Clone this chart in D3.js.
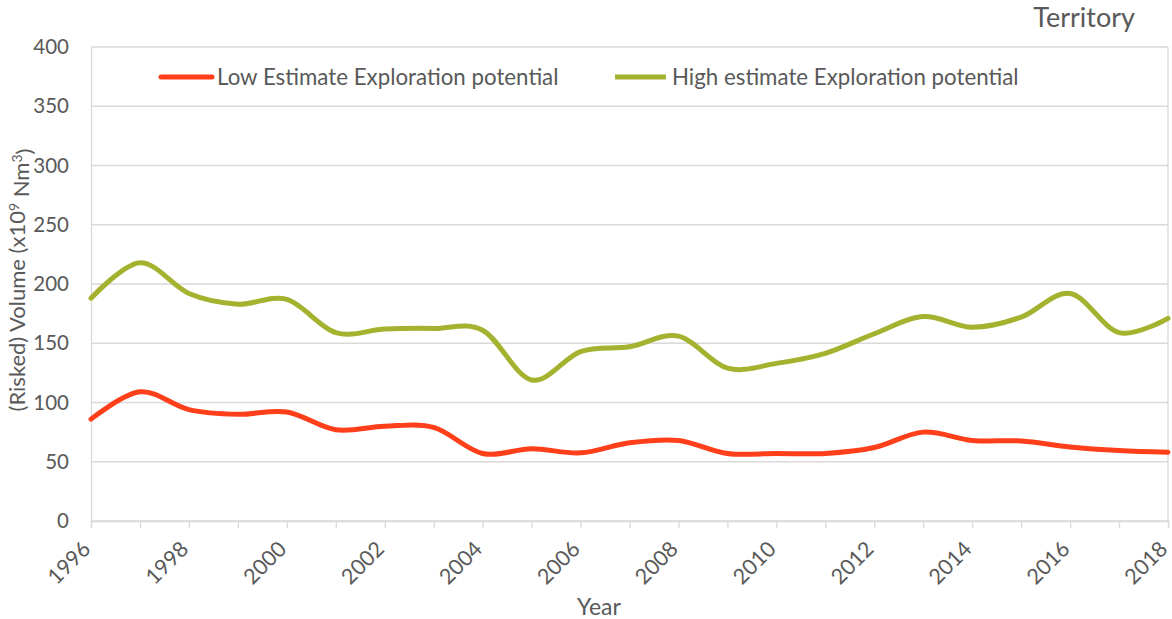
<!DOCTYPE html>
<html>
<head>
<meta charset="utf-8">
<script src="https://cdn.jsdelivr.net/npm/d3@7"></script>
<style>
  html, body { margin: 0; padding: 0; background: #fff; }
  svg { display: block; font-family: Lato, "Open Sans", sans-serif; }
</style>
</head>
<body>
<svg id="chart" width="1172" height="619"></svg>
<script>
// Years on the x axis
const years = [1996, 1997, 1998, 1999, 2000, 2001, 2002, 2003, 2004, 2005, 2006, 2007,
               2008, 2009, 2010, 2011, 2012, 2013, 2014, 2015, 2016, 2017, 2018];

// Risked volume, low estimate (x10^9 Nm3)
const lowEstimate = [86, 109, 94, 90, 92, 77, 80, 79, 57, 61, 57.5, 66,
                     68, 57, 57, 57, 62, 75, 68, 67.5, 62.5, 59.5, 58];

// Risked volume, high estimate (x10^9 Nm3)
const highEstimate = [188, 218, 192, 183, 187, 159, 162, 162.5, 161, 119, 143, 147,
                      156, 129, 133, 141.5, 158, 172.5, 163.5, 172, 192, 159, 171];

const yTicks = [0, 50, 100, 150, 200, 250, 300, 350, 400];
const xLabelYears = [1996, 1998, 2000, 2002, 2004, 2006, 2008, 2010, 2012, 2014, 2016, 2018];

const seriesNames = ["Low Estimate Exploration potential", "High estimate Exploration potential"];
const seriesColors = ["#FF3F1A", "#A5B22F"];

const margin = { left: 91, right: 4, top: 47, bottom: 98 };
const W = 1172, H = 619;
const svg = d3.select("#chart");

const x = d3.scaleLinear().domain([1996, 2018]).range([margin.left, W - margin.right]);
const y = d3.scaleLinear().domain([0, 400]).range([H - margin.bottom, margin.top]);

const textColor = "#595959";
const gridColor = "#D9D9D9";

// Horizontal gridlines
svg.append("g")
  .selectAll("line")
  .data(yTicks)
  .join("line")
  .attr("x1", x(1996)).attr("x2", x(2018))
  .attr("y1", d => y(d)).attr("y2", d => y(d))
  .attr("stroke", gridColor).attr("stroke-width", 1.3);

// Plot-area frame on the right side
svg.append("line")
  .attr("x1", x(2018)).attr("x2", x(2018))
  .attr("y1", y(400)).attr("y2", y(0))
  .attr("stroke", gridColor).attr("stroke-width", 1.3);

// Y axis
const yAxis = svg.append("g")
  .attr("transform", `translate(${x(1996)},0)`)
  .call(d3.axisLeft(y).tickValues(yTicks).tickSize(0).tickPadding(22));
yAxis.select(".domain").attr("stroke", gridColor).attr("stroke-width", 1.3);
yAxis.selectAll("text")
  .attr("fill", textColor)
  .style("font-size", "20.5px")
  .style("font-family", "Lato, 'Open Sans', sans-serif");

// X axis: a tick every year, labels every two years
const xAxis = svg.append("g")
  .attr("transform", `translate(0,${y(0)})`)
  .call(d3.axisBottom(x).tickValues(years).tickSize(7)
    .tickFormat(d => xLabelYears.includes(d) ? String(d) : ""));
xAxis.select(".domain").attr("stroke", gridColor).attr("stroke-width", 1.3);
xAxis.selectAll(".tick line").attr("stroke", gridColor).attr("stroke-width", 1.3);
xAxis.selectAll("text")
  .attr("fill", textColor)
  .style("font-size", "21.5px")
  .style("font-family", "Lato, 'Open Sans', sans-serif")
  .attr("text-anchor", "end")
  .attr("dy", "0.35em")
  .attr("transform", "translate(-12,17) rotate(-45)");

// Series lines (smoothed)
const line = d3.line()
  .x((d, i) => x(years[i]))
  .y(d => y(d))
  .curve(d3.curveCatmullRom.alpha(0));

[lowEstimate, highEstimate].forEach((vals, k) => {
  svg.append("path")
    .datum(vals)
    .attr("d", line)
    .attr("fill", "none")
    .attr("stroke", seriesColors[k])
    .attr("stroke-width", 5)
    .attr("stroke-linejoin", "round")
    .attr("stroke-linecap", "round");
});

// Legend
const legendItems = [
  { name: seriesNames[0], color: seriesColors[0], x0: 161, x1: 212, tx: 217, cap: "round" },
  { name: seriesNames[1], color: seriesColors[1], x0: 615, x1: 666, tx: 672, cap: "butt" }
];
const legend = svg.append("g");
legendItems.forEach(it => {
  legend.append("line")
    .attr("x1", it.x0).attr("x2", it.x1)
    .attr("y1", 77).attr("y2", 77)
    .attr("stroke", it.color).attr("stroke-width", 5)
    .attr("stroke-linecap", it.cap);
  legend.append("text")
    .attr("x", it.tx).attr("y", 85)
    .attr("fill", textColor)
    .style("font-size", "22.3px")
    .text(it.name);
});

// Title at top right
svg.append("text")
  .attr("x", 1135).attr("y", 27)
  .attr("text-anchor", "end")
  .attr("fill", textColor)
  .style("font-size", "27px")
  .text("Territory");

// X axis title
svg.append("text")
  .attr("x", 599).attr("y", 615)
  .attr("text-anchor", "middle")
  .attr("fill", textColor)
  .style("font-size", "23px")
  .text("Year");

// Y axis title with superscripts
const yTitle = svg.append("text")
  .attr("transform", "translate(25,280) rotate(-90)")
  .attr("text-anchor", "middle")
  .attr("fill", textColor)
  .style("font-size", "22px");
yTitle.append("tspan").text("(Risked) Volume (x10");
yTitle.append("tspan").attr("dy", "-0.45em").style("font-size", "14px").text("9");
yTitle.append("tspan").attr("dy", "0.45em").text(" Nm");
yTitle.append("tspan").attr("dy", "-0.45em").style("font-size", "14px").text("3");
yTitle.append("tspan").attr("dy", "0.45em").text(")");
</script>
</body>
</html>
